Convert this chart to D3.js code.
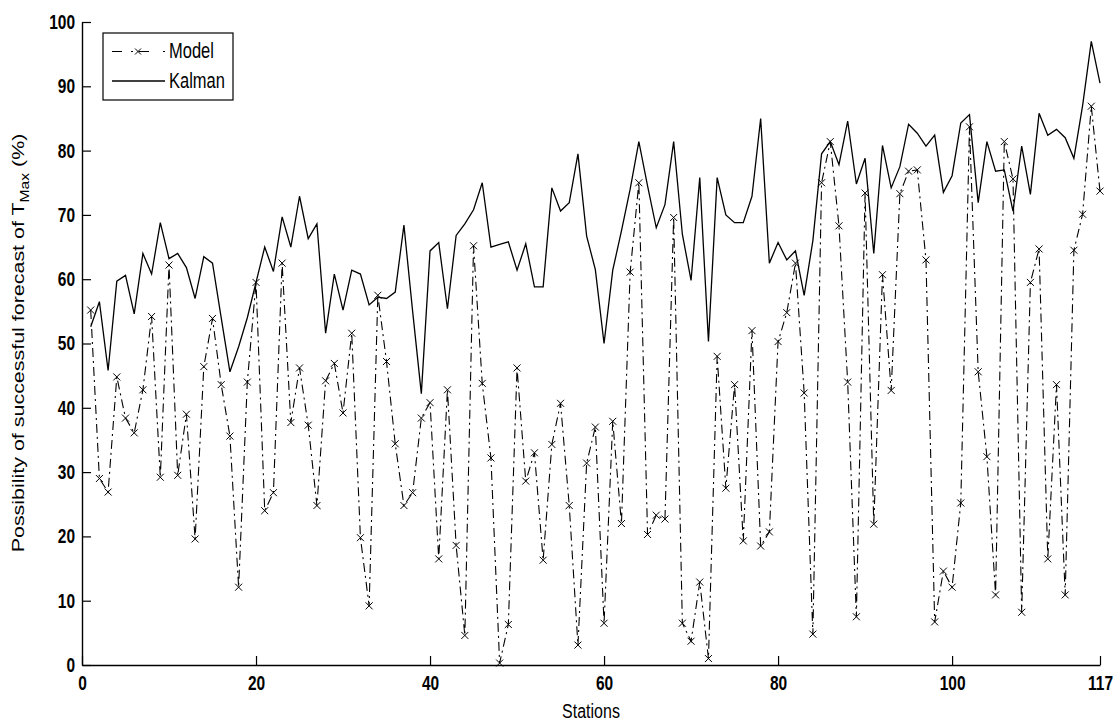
<!DOCTYPE html>
<html><head><meta charset="utf-8">
<script src="https://cdn.jsdelivr.net/npm/d3@7/dist/d3.min.js"></script>
<style>
body{margin:0;background:#fff;}
svg{display:block;font-family:"Liberation Sans",Arial,sans-serif;}
</style></head>
<body><svg id="c" width="1120" height="726"></svg>
<script>
const stations = d3.range(1, 118);
const modelValues = [
55.2,29,26.9,44.8,38.4,36.1,42.8,54.2,29.2,62.2,
29.5,39,19.6,46.4,53.9,43.6,35.6,12.1,44,59.5,
24,26.8,62.5,37.7,46.2,37.3,24.8,44.2,46.9,39.2,
51.6,19.8,9.2,57.5,47.2,34.4,24.8,26.8,38.4,40.8,
16.5,42.8,18.6,4.6,65.2,43.8,32.2,0.3,6.3,46.2,
28.6,33,16.3,34.3,40.7,24.8,3.1,31.4,37,6.5,
37.9,22,61.1,75,20.3,23.3,22.7,69.6,6.5,3.7,
12.9,1,48,27.5,43.6,19.3,52,18.5,20.7,50.3,
54.8,62.5,42.3,4.8,75,81.4,68.3,44,7.5,73.4,
21.9,60.7,42.7,73.3,76.8,77,63,6.7,14.6,12.1,
25.2,83.7,45.6,32.4,10.9,81.4,75.6,8.2,59.5,64.7,
16.5,43.6,10.9,64.5,70.1,86.9,73.7];
const kalmanValues = [
52.6,56.5,45.8,59.7,60.6,54.6,64,60.8,68.8,63.2,
64,61.8,57,63.5,62.5,54,45.6,49.5,54,59.5,
65,61.2,69.7,65,72.9,66.3,68.6,51.6,60.8,55.2,
61.4,60.8,56,57.2,57,58,68.4,55,42.2,64.4,
65.7,55.4,66.8,68.6,70.8,75,65,65.4,65.8,61.4,
65.5,58.8,58.8,74.2,70.6,71.9,79.5,66.7,61.5,50,
61.4,67.5,74,81.4,74.5,68,71.6,81.4,67,59.8,
75.8,50.3,75.8,70,68.8,68.8,72.9,85,62.5,65.7,
63,64.4,57.5,66,79.5,81.4,77.8,84.6,74.8,78.8,
64,80.8,74.2,77.5,84.1,82.7,80.7,82.4,73.5,76.1,
84.3,85.6,71.9,81.4,76.8,77,70.6,80.7,73.2,85.8,
82.4,83.3,82,78.8,87,97,90.5];
const xTicks = [0, 20, 40, 60, 80, 100, 117];
const yTicks = d3.range(0, 101, 10);
const seriesNames = ["Model", "Kalman"];

const svg = d3.select("#c");
const L = 82, R = 1100, T = 22, B = 665;
const SY = 1.3; // vertical stretch of the original figure's text
const x = d3.scaleLinear().domain([0, 117]).range([L, R]);
const y = d3.scaleLinear().domain([0, 100]).range([B, T]);

// axes
const xa = svg.append("g").attr("transform", `translate(0,${B})`)
  .call(d3.axisBottom(x).tickValues(xTicks).tickSizeInner(-9).tickSizeOuter(0));
const ya = svg.append("g").attr("transform", `translate(${L},0)`)
  .call(d3.axisLeft(y).tickValues(yTicks).tickSizeInner(-9).tickSizeOuter(0).tickPadding(7));
[xa, ya].forEach(a => {
  a.selectAll("path.domain").attr("stroke", "#000").attr("stroke-width", 1.4);
  a.selectAll(".tick line").attr("stroke", "#000").attr("stroke-width", 1.2);
  a.selectAll(".tick text").attr("fill", "#000").style("font-size", "15.5px").style("font-weight", "bold");
});
xa.selectAll(".tick text").attr("y", 0).attr("dy", null)
  .attr("transform", `translate(0,25) scale(1,${SY})`);
ya.selectAll(".tick text").attr("transform", `scale(1,${SY})`);

// Kalman line
const line = d3.line().x((d, i) => x(stations[i])).y(d => y(d));
svg.append("path").datum(kalmanValues).attr("d", line)
  .attr("fill", "none").attr("stroke", "#000").attr("stroke-width", 1.3);

// Model line
svg.append("path").datum(modelValues).attr("d", line)
  .attr("fill", "none").attr("stroke", "#000").attr("stroke-width", 1.1)
  .attr("stroke-dasharray", "9,4,2,4");
const cross = (g, cx, cy, s) => g.append("path")
  .attr("d", `M${cx-s},${cy-s}L${cx+s},${cy+s}M${cx-s},${cy+s}L${cx+s},${cy-s}`)
  .attr("stroke", "#000").attr("stroke-width", 1).attr("fill", "none");
const mk = svg.append("g");
modelValues.forEach((v, i) => cross(mk, x(stations[i]), y(v), 3.5));

// legend
const lg = svg.append("g");
lg.append("rect").attr("x", 103).attr("y", 33).attr("width", 130).attr("height", 67)
  .attr("fill", "#fff").attr("stroke", "#000").attr("stroke-width", 1.2);
lg.append("line").attr("x1", 112).attr("x2", 165).attr("y1", 51.5).attr("y2", 51.5)
  .attr("stroke", "#000").attr("stroke-width", 1.1).attr("stroke-dasharray", "10,9,2,6,10,14,2,4");
cross(lg, 138, 51.5, 3);
lg.append("line").attr("x1", 112).attr("x2", 165).attr("y1", 81).attr("y2", 81)
  .attr("stroke", "#000").attr("stroke-width", 1.3);
lg.selectAll("text.lt").data(seriesNames).enter().append("text")
  .attr("transform", (d, i) => `translate(169,${58 + i * 30}) scale(1,${SY})`).text(d => d)
  .style("font-size", "16.5px").attr("fill", "#000");

// axis titles
svg.append("text").attr("transform", `translate(${(L + R) / 2},718) scale(1,${SY})`)
  .attr("text-anchor", "middle").style("font-size", "16px").text("Stations");
const yl = svg.append("text").attr("transform", `translate(24,343) rotate(-90) scale(${SY},1)`)
  .attr("text-anchor", "middle").style("font-size", "16.5px");
yl.append("tspan").text("Possibility of successful forecast of T");
yl.append("tspan").attr("dy", 5).style("font-size", "12px").text("Max");
yl.append("tspan").attr("dy", -5).text(" (%)");
</script></body></html>
